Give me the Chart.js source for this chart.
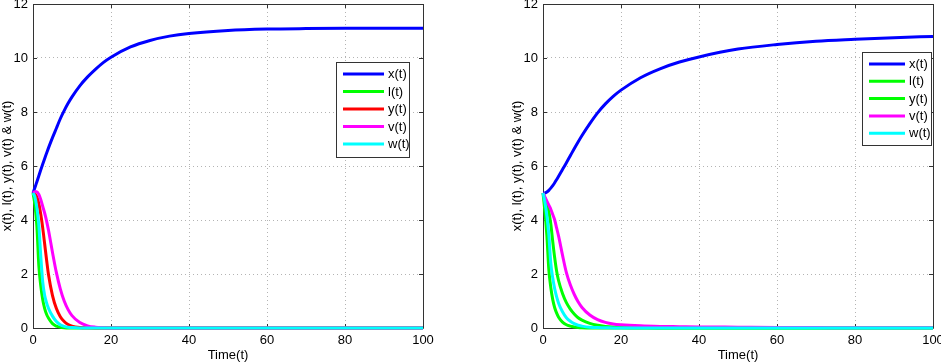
<!DOCTYPE html>
<html>
<head>
<meta charset="utf-8">
<script src="https://cdn.jsdelivr.net/npm/chart.js@4.4.1/dist/chart.umd.min.js"></script>
<style>
  html, body { margin: 0; padding: 0; background: #fff; }
  #wrap { position: relative; width: 941px; height: 364px; overflow: hidden; }
  .cv { position: absolute; top: 0; }
</style>
</head>
<body>
<div id="wrap">
  <div class="cv" style="left:0px;width:470px;height:364px;"><canvas id="c1"></canvas></div>
  <div class="cv" style="left:510px;width:431px;height:364px;"><canvas id="c2"></canvas></div>
</div>
<script>
// ---- data ----
const time = [0,0.5,1,1.5,2,2.5,3,3.5,4,5,6,7,8,9,10,12,14,16,18,20,25,30,35,40,50,60,70,80,90,100];
const seriesNames = ["x(t)", "l(t)", "y(t)", "v(t)", "w(t)"];
const yTicks = [0, 2, 4, 6, 8, 10, 12];
const xTicks = [0, 20, 40, 60, 80, 100];

// left panel
const leftX = [5.0,5.2,5.42,5.64,5.86,6.07,6.28,6.48,6.68,7.05,7.4,7.75,8.05,8.32,8.56,8.97,9.3,9.58,9.83,10.03,10.41,10.65,10.81,10.91,11.02,11.07,11.09,11.1,11.1,11.1];
const leftL = [5.0,4.55,3.75,2.3,1.55,1.05,0.72,0.5,0.36,0.16,0.07,0.03,0.01,0,0,0,0,0,0,0,0,0,0,0,0,0,0,0,0,0];
const leftY = [5.0,4.97,4.85,4.6,4.2,3.7,3.1,2.5,1.95,1.2,0.72,0.42,0.24,0.13,0.07,0.02,0.005,0,0,0,0,0,0,0,0,0,0,0,0,0];
const leftV = [5.0,5.05,5.05,4.95,4.75,4.5,4.25,3.95,3.6,2.8,2.05,1.45,1.0,0.68,0.46,0.2,0.08,0.03,0.01,0,0,0,0,0,0,0,0,0,0,0];
const leftW = [5.0,4.85,4.45,3.8,2.65,1.7,1.2,0.92,0.72,0.44,0.24,0.12,0.06,0.03,0.015,0,0,0,0,0,0,0,0,0,0,0,0,0,0,0];

// right panel
const rightX = [5.0,5.0,5.04,5.1,5.18,5.27,5.38,5.5,5.62,5.87,6.12,6.38,6.64,6.89,7.13,7.57,7.97,8.3,8.58,8.81,9.27,9.6,9.85,10.04,10.33,10.5,10.62,10.69,10.75,10.8];
const rightL = [5.0,4.3,3.4,2.15,1.5,1.05,0.75,0.55,0.4,0.22,0.12,0.07,0.04,0.02,0.01,0,0,0,0,0,0,0,0,0,0,0,0,0,0,0];
const rightY = [5.0,4.82,4.6,4.3,3.85,3.2,2.6,2.1,1.75,1.28,0.94,0.7,0.52,0.38,0.29,0.17,0.1,0.06,0.035,0.02,0.01,0,0,0,0,0,0,0,0,0];
const rightV = [5.0,4.85,4.7,4.55,4.4,4.2,4.0,3.7,3.4,2.7,2.05,1.6,1.25,0.97,0.76,0.48,0.31,0.21,0.15,0.12,0.08,0.06,0.05,0.04,0.03,0.02,0.015,0.01,0.01,0.01];
const rightW = [5.0,4.65,4.15,3.45,2.4,1.85,1.45,1.15,0.92,0.6,0.38,0.25,0.16,0.1,0.07,0.03,0.015,0.01,0,0,0,0,0,0,0,0,0,0,0,0];

const leftColors  = ["#0000ff", "#00ff00", "#ff0000", "#ff00ff", "#00ffff"];
const rightColors = ["#0000ff", "#00ff00", "#00ff00", "#ff00ff", "#00ffff"];

const FONT = "'Liberation Sans', Arial, Helvetica, sans-serif";

function pts(arr) { return time.map((t, i) => ({ x: t, y: arr[i] })); }

// Box frame + inward ticks (MATLAB style)
const framePlugin = {
  id: 'frame',
  beforeDatasetsDraw(chart) {
    const { ctx, chartArea: a, scales } = chart;
    ctx.save();
    ctx.strokeStyle = '#333';
    ctx.lineWidth = 1;
    ctx.beginPath();
    ctx.rect(Math.round(a.left) + 0.5, Math.round(a.top) + 0.5, Math.round(a.right - a.left), Math.round(a.bottom - a.top));
    ctx.stroke();
    ctx.beginPath();
    const L = 4;
    xTicks.forEach(v => {
      const px = Math.round(scales.x.getPixelForValue(v)) + 0.5;
      ctx.moveTo(px, a.bottom); ctx.lineTo(px, a.bottom - L);
      ctx.moveTo(px, a.top); ctx.lineTo(px, a.top + L);
    });
    yTicks.forEach(v => {
      const py = Math.round(scales.y.getPixelForValue(v)) + 0.5;
      ctx.moveTo(a.left, py); ctx.lineTo(a.left + L, py);
      ctx.moveTo(a.right, py); ctx.lineTo(a.right - L, py);
    });
    ctx.stroke();
    ctx.restore();
  }
};

// Legend box inside the plot
const boxLegendPlugin = {
  id: 'boxLegend',
  afterDatasetsDraw(chart, args, opts) {
    const { ctx, chartArea: a } = chart;
    const ds = chart.data.datasets;
    const x0 = a.right - opts.rightGap - opts.width;
    const y0 = a.top + opts.topGap;
    const rowH = opts.rowH;
    const h = opts.padTop + rowH * (ds.length - 1) + opts.padBottom;
    ctx.save();
    ctx.fillStyle = '#fff';
    ctx.fillRect(x0, y0, opts.width, h);
    ctx.strokeStyle = '#333';
    ctx.lineWidth = 1;
    ctx.strokeRect(Math.round(x0) + 0.5, Math.round(y0) + 0.5, Math.round(opts.width), Math.round(h));
    ctx.font = '13px ' + FONT;
    ctx.textBaseline = 'middle';
    ctx.textAlign = 'left';
    opts.order.forEach((idx, i) => {
      const d = ds[idx];
      const yy = y0 + opts.padTop + i * rowH;
      ctx.strokeStyle = d.borderColor;
      ctx.lineWidth = 3;
      ctx.beginPath();
      ctx.moveTo(x0 + opts.lineStart, yy);
      ctx.lineTo(x0 + opts.lineStart + opts.lineLen, yy);
      ctx.stroke();
      ctx.fillStyle = '#000';
      ctx.fillText(d.label, x0 + opts.textX, yy + 0.5);
    });
    ctx.restore();
  }
};

function makeChart(canvasId, seriesArrays, colors, pad, legendOpts) {
  // drawing order: later series on top (as in the original)
  const datasets = seriesArrays.map((arr, i) => ({
    label: seriesNames[i],
    data: pts(arr),
    borderColor: colors[i],
    backgroundColor: colors[i],
    borderWidth: 3,
    pointRadius: 0,
    fill: false,
    cubicInterpolationMode: 'monotone',
    clip: false,
    order: seriesArrays.length - i
  }));
  return new Chart(document.getElementById(canvasId), {
    type: 'line',
    data: { datasets },
    plugins: [framePlugin, boxLegendPlugin],
    options: {
      responsive: true,
      maintainAspectRatio: false,
      animation: false,
      layout: { padding: pad },
      plugins: {
        legend: { display: false },
        tooltip: { enabled: false },
        boxLegend: legendOpts
      },
      scales: {
        x: {
          type: 'linear', min: 0, max: 100,
          afterBuildTicks(s) { s.ticks = xTicks.map(v => ({ value: v })); },
          afterFit(s) { s.height = 36; s.paddingLeft = 0; s.paddingRight = 0; },
          ticks: { color: '#000', font: { family: FONT, size: 13 }, padding: 5, maxRotation: 0, autoSkip: false },
          grid: { color: '#b4b4b4', drawTicks: false, lineWidth: 1 },
          border: { display: false, dash: [1, 3] },
          title: { display: true, text: 'Time(t)', color: '#000', font: { family: FONT, size: 13 }, padding: { top: 0, bottom: 1 } }
        },
        y: {
          type: 'linear', min: 0, max: 12,
          afterBuildTicks(s) { s.ticks = yTicks.map(v => ({ value: v })); },
          afterFit(s) { s.width = 33; s.paddingTop = 0; s.paddingBottom = 0; },
          ticks: { color: '#000', font: { family: FONT, size: 13 }, padding: 5, autoSkip: false },
          grid: { color: '#b4b4b4', drawTicks: false, lineWidth: 1 },
          border: { display: false, dash: [1, 3] },
          title: { display: true, text: 'x(t), l(t), y(t), v(t) & w(t)', color: '#000', font: { family: FONT, size: 13 }, padding: { top: 0, bottom: 0 } }
        }
      }
    }
  });
}

makeChart('c1', [leftX, leftL, leftY, leftV, leftW], leftColors,
  { left: 0, right: 47, top: 4, bottom: 0 },
  { width: 73, rightGap: 14, topGap: 58, padTop: 12, padBottom: 13, rowH: 17.5, lineStart: 7, lineLen: 41, textX: 52, order: [0,1,2,3,4] });

makeChart('c2', [rightX, rightL, rightY, rightV, rightW], rightColors,
  { left: 0, right: 8, top: 4, bottom: 0 },
  { width: 69, rightGap: 2, topGap: 48, padTop: 12, padBottom: 12, rowH: 17.3, lineStart: 7, lineLen: 36, textX: 47, order: [0,1,2,3,4] });
</script>
</body>
</html>
